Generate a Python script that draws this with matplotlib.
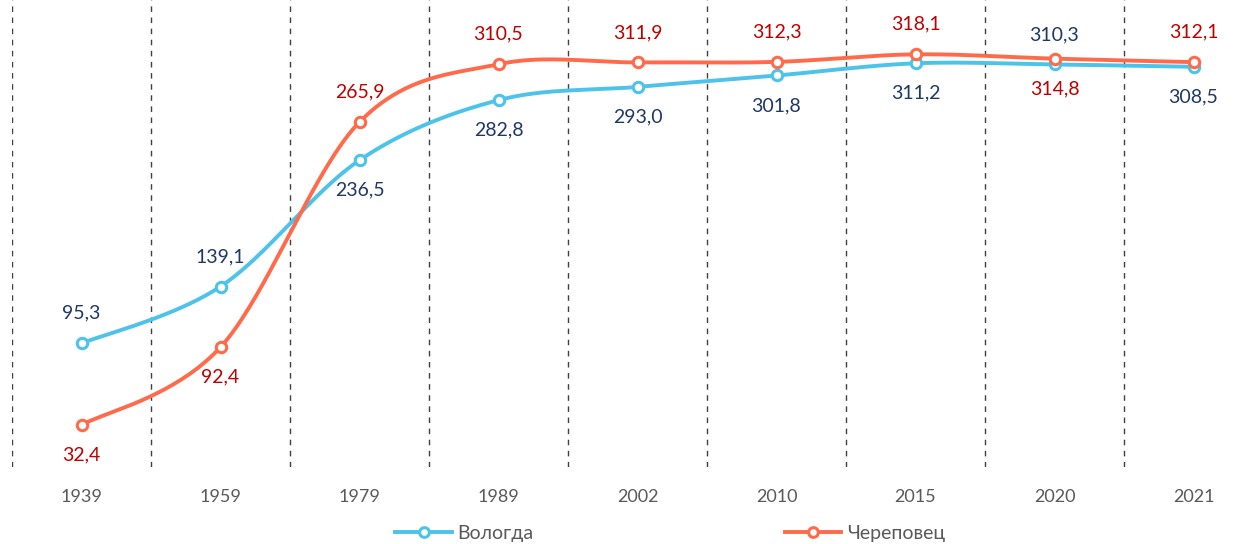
import numpy as np
import matplotlib
matplotlib.use("Agg")
import matplotlib.pyplot as plt
from matplotlib.lines import Line2D

years = ["1939", "1959", "1979", "1989", "2002", "2010", "2015", "2020", "2021"]
vologda = [95.3, 139.1, 236.5, 282.8, 293.0, 301.8, 311.2, 310.3, 308.5]
cherepovets = [32.4, 92.4, 265.9, 310.5, 311.9, 312.3, 318.1, 314.8, 312.1]
series_names = ["Вологда", "Череповец"]

# label placement: +1 above, -1 below
vologda_pos = [1, 1, -1, -1, -1, -1, -1, 1, -1]
cherep_pos = [-1, -1, 1, 1, 1, 1, 1, -1, 1]

plt.rcParams['font.family'] = ['Lato', 'Open Sans', 'DejaVu Sans']

def smooth(x, y, n=40):
    x = np.asarray(x, float); y = np.asarray(y, float)
    px = np.concatenate([[x[0]], x, [x[-1]]])
    py = np.concatenate([[y[0]], y, [y[-1]]])
    xs, ys = [], []
    t = np.linspace(0, 1, n)
    for i in range(1, len(px) - 2):
        p0, p1, p2, p3 = [np.array([px[j], py[j]]) for j in range(i-1, i+3)]
        c1 = p1 + (p2 - p0) / 6.0
        c2 = p2 - (p3 - p1) / 6.0
        pts = ((1-t)**3)[:, None]*p1 + (3*(1-t)**2*t)[:, None]*c1 + (3*(1-t)*t**2)[:, None]*c2 + (t**3)[:, None]*p2
        xs.append(pts[:, 0]); ys.append(pts[:, 1])
    return np.concatenate(xs), np.concatenate(ys)

fig = plt.figure(figsize=(12.55, 5.44), dpi=100)
ax = fig.add_axes([12/1255, 1 - 467/544, 1251/1255, 467/544])
ax.set_xlim(-0.5, len(years) - 0.5)
ax.set_ylim(0, 360)

x = np.arange(len(years))
c_v = "#4DC3EA"
c_c = "#FF6B4A"
for b in np.arange(-0.5, len(years) + 0.5, 1.0):
    ax.axvline(b, color="#404040", lw=1.0, ls=(0, (4, 4)), zorder=1)

for vals, col, lab_col, pos in [(vologda, c_v, "#203864", vologda_pos),
                                 (cherepovets, c_c, "#C00000", cherep_pos)]:
    sx, sy = smooth(x, vals)
    ax.plot(sx, sy, color=col, lw=2.8, zorder=3, solid_capstyle='round')
    ax.plot(x, vals, ls='none', marker='o', ms=7.5, mfc='white', mec=col, mew=2.2, zorder=4)
    for xi, v, p in zip(x, vals, pos):
        ax.annotate(f"{v:.1f}".replace(".", ","), (xi, v), xytext=(0, 30*p),
                    textcoords='offset pixels',
                    ha='center', va='center', fontsize=14, color=lab_col, zorder=5)

ax.set_xticks(x)
ax.set_xticklabels(years)
ax.tick_params(axis='x', length=0, pad=16, labelsize=13, labelcolor="#595959")
ax.set_yticks([])
for s in ax.spines.values():
    s.set_visible(False)

h1 = Line2D([], [], color=c_v, lw=2.8, marker='o', ms=7, mfc='white', mec=c_v, mew=2.2)
h2 = Line2D([], [], color=c_c, lw=2.8, marker='o', ms=7, mfc='white', mec=c_c, mew=2.2)
fig.legend([h1, h2], series_names, loc='center', bbox_to_anchor=(0.534, 1 - 533/544),
           ncol=2, frameon=False, fontsize=14, labelcolor="#595959",
           columnspacing=12.9, handlelength=2.9, handletextpad=0.3)

fig.savefig("out.png", dpi=100)
